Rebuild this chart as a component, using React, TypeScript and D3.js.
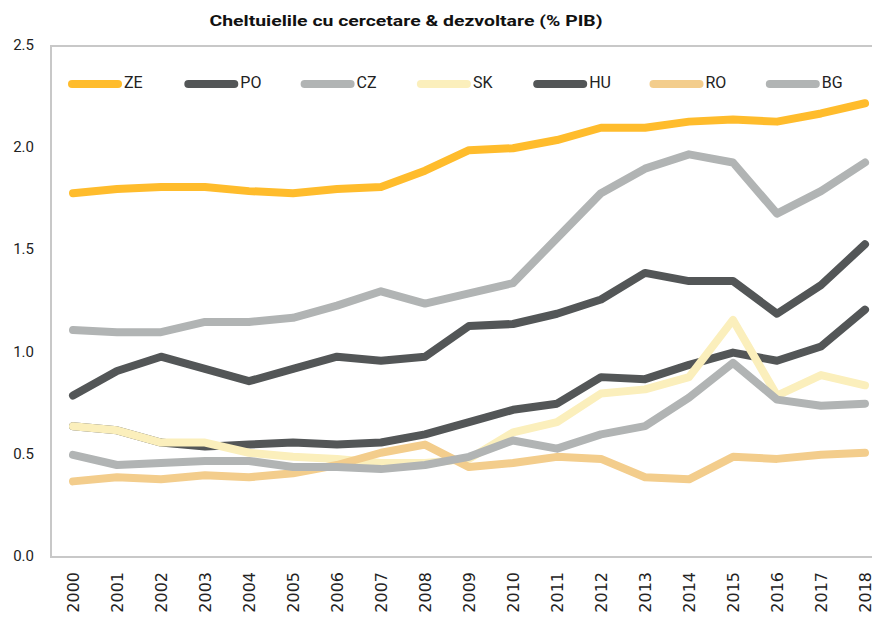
import React from "react";
import * as d3 from "d3";

const years = [2000, 2001, 2002, 2003, 2004, 2005, 2006, 2007, 2008, 2009, 2010, 2011, 2012, 2013, 2014, 2015, 2016, 2017, 2018];
const ZE = [1.78, 1.8, 1.81, 1.81, 1.79, 1.78, 1.8, 1.81, 1.89, 1.99, 2.0, 2.04, 2.1, 2.1, 2.13, 2.14, 2.13, 2.17, 2.22];
const PO = [0.64, 0.62, 0.56, 0.54, 0.55, 0.56, 0.55, 0.56, 0.6, 0.66, 0.72, 0.75, 0.88, 0.87, 0.94, 1.0, 0.96, 1.03, 1.21];
const CZ = [1.11, 1.1, 1.1, 1.15, 1.15, 1.17, 1.23, 1.3, 1.24, 1.29, 1.34, 1.56, 1.78, 1.9, 1.97, 1.93, 1.68, 1.79, 1.93];
const SK = [0.64, 0.62, 0.56, 0.56, 0.51, 0.49, 0.48, 0.46, 0.46, 0.48, 0.61, 0.66, 0.8, 0.82, 0.88, 1.16, 0.79, 0.89, 0.84];
const HU = [0.79, 0.91, 0.98, 0.92, 0.86, 0.92, 0.98, 0.96, 0.98, 1.13, 1.14, 1.19, 1.26, 1.39, 1.35, 1.35, 1.19, 1.33, 1.53];
const RO = [0.37, 0.39, 0.38, 0.4, 0.39, 0.41, 0.45, 0.51, 0.55, 0.44, 0.46, 0.49, 0.48, 0.39, 0.38, 0.49, 0.48, 0.5, 0.51];
const BG = [0.5, 0.45, 0.46, 0.47, 0.47, 0.44, 0.44, 0.43, 0.45, 0.49, 0.57, 0.53, 0.6, 0.64, 0.78, 0.95, 0.77, 0.74, 0.75];
const yTicks = [0, 0.5, 1.0, 1.5, 2.0, 2.5];
const title = "Cheltuielile cu cercetare & dezvoltare (% PIB)";

const seriesNames = ["ZE", "PO", "CZ", "SK", "HU", "RO", "BG"];
const seriesValues = [ZE, PO, CZ, SK, HU, RO, BG];
const seriesColors = ["#FFBC2C", "#535657", "#B1B4B4", "#FBEFBC", "#535657", "#F3CD8C", "#B1B4B4"];

export default function App() {
  const W = 872, H = 617;
  const x = d3.scaleLinear().domain([2000, 2018]).range([73, 865]);
  const y = d3.scaleLinear().domain([0, 2.5]).range([557, 46]);
  const line = d3.line<number>().x((_, i) => x(years[i])).y((d) => y(d));
  const frame = "#C8C8C8";
  const font = "Roboto, 'Noto Sans', sans-serif";
  return (
    <svg width={W} height={H} style={{ position: "absolute", left: 0, top: 0, background: "#fff" }}>
      <text x={406} y={26} textAnchor="middle" fontFamily={font} fontWeight={700} fontSize={15} textLength={393} lengthAdjust="spacingAndGlyphs" fill="#111">{title}</text>
      <rect x={51} y={46} width={W} height={511} fill="none" stroke={frame} strokeWidth={2} />
      {yTicks.map((t) => (
        <text key={t} x={34} y={y(t)} textAnchor="end" dominantBaseline="middle" fontFamily={font} fontSize={15} fill="#222">{t.toFixed(1)}</text>
      ))}
      {years.map((yr) => (
        <text key={yr} transform={`translate(${x(yr) + 6},572) rotate(-90)`} textAnchor="end" fontFamily="'DejaVu Sans', sans-serif" fontSize={16} fill="#222">{yr}</text>
      ))}
      {seriesValues.map((vals, i) => (
        <path key={seriesNames[i]} d={line(vals) || ""} fill="none" stroke={seriesColors[i]} strokeWidth={8} strokeLinecap="round" strokeLinejoin="round" />
      ))}
      {seriesNames.map((n, i) => {
        const lx = 68 + i * 116.3;
        return (
          <g key={n}>
            <line x1={lx + 4} x2={lx + 50} y1={84} y2={84} stroke={seriesColors[i]} strokeWidth={8} strokeLinecap="round" />
            <text x={lx + 56} y={84} dominantBaseline="middle" fontFamily={font} fontSize={16} fill="#222">{n}</text>
          </g>
        );
      })}
    </svg>
  );
}
